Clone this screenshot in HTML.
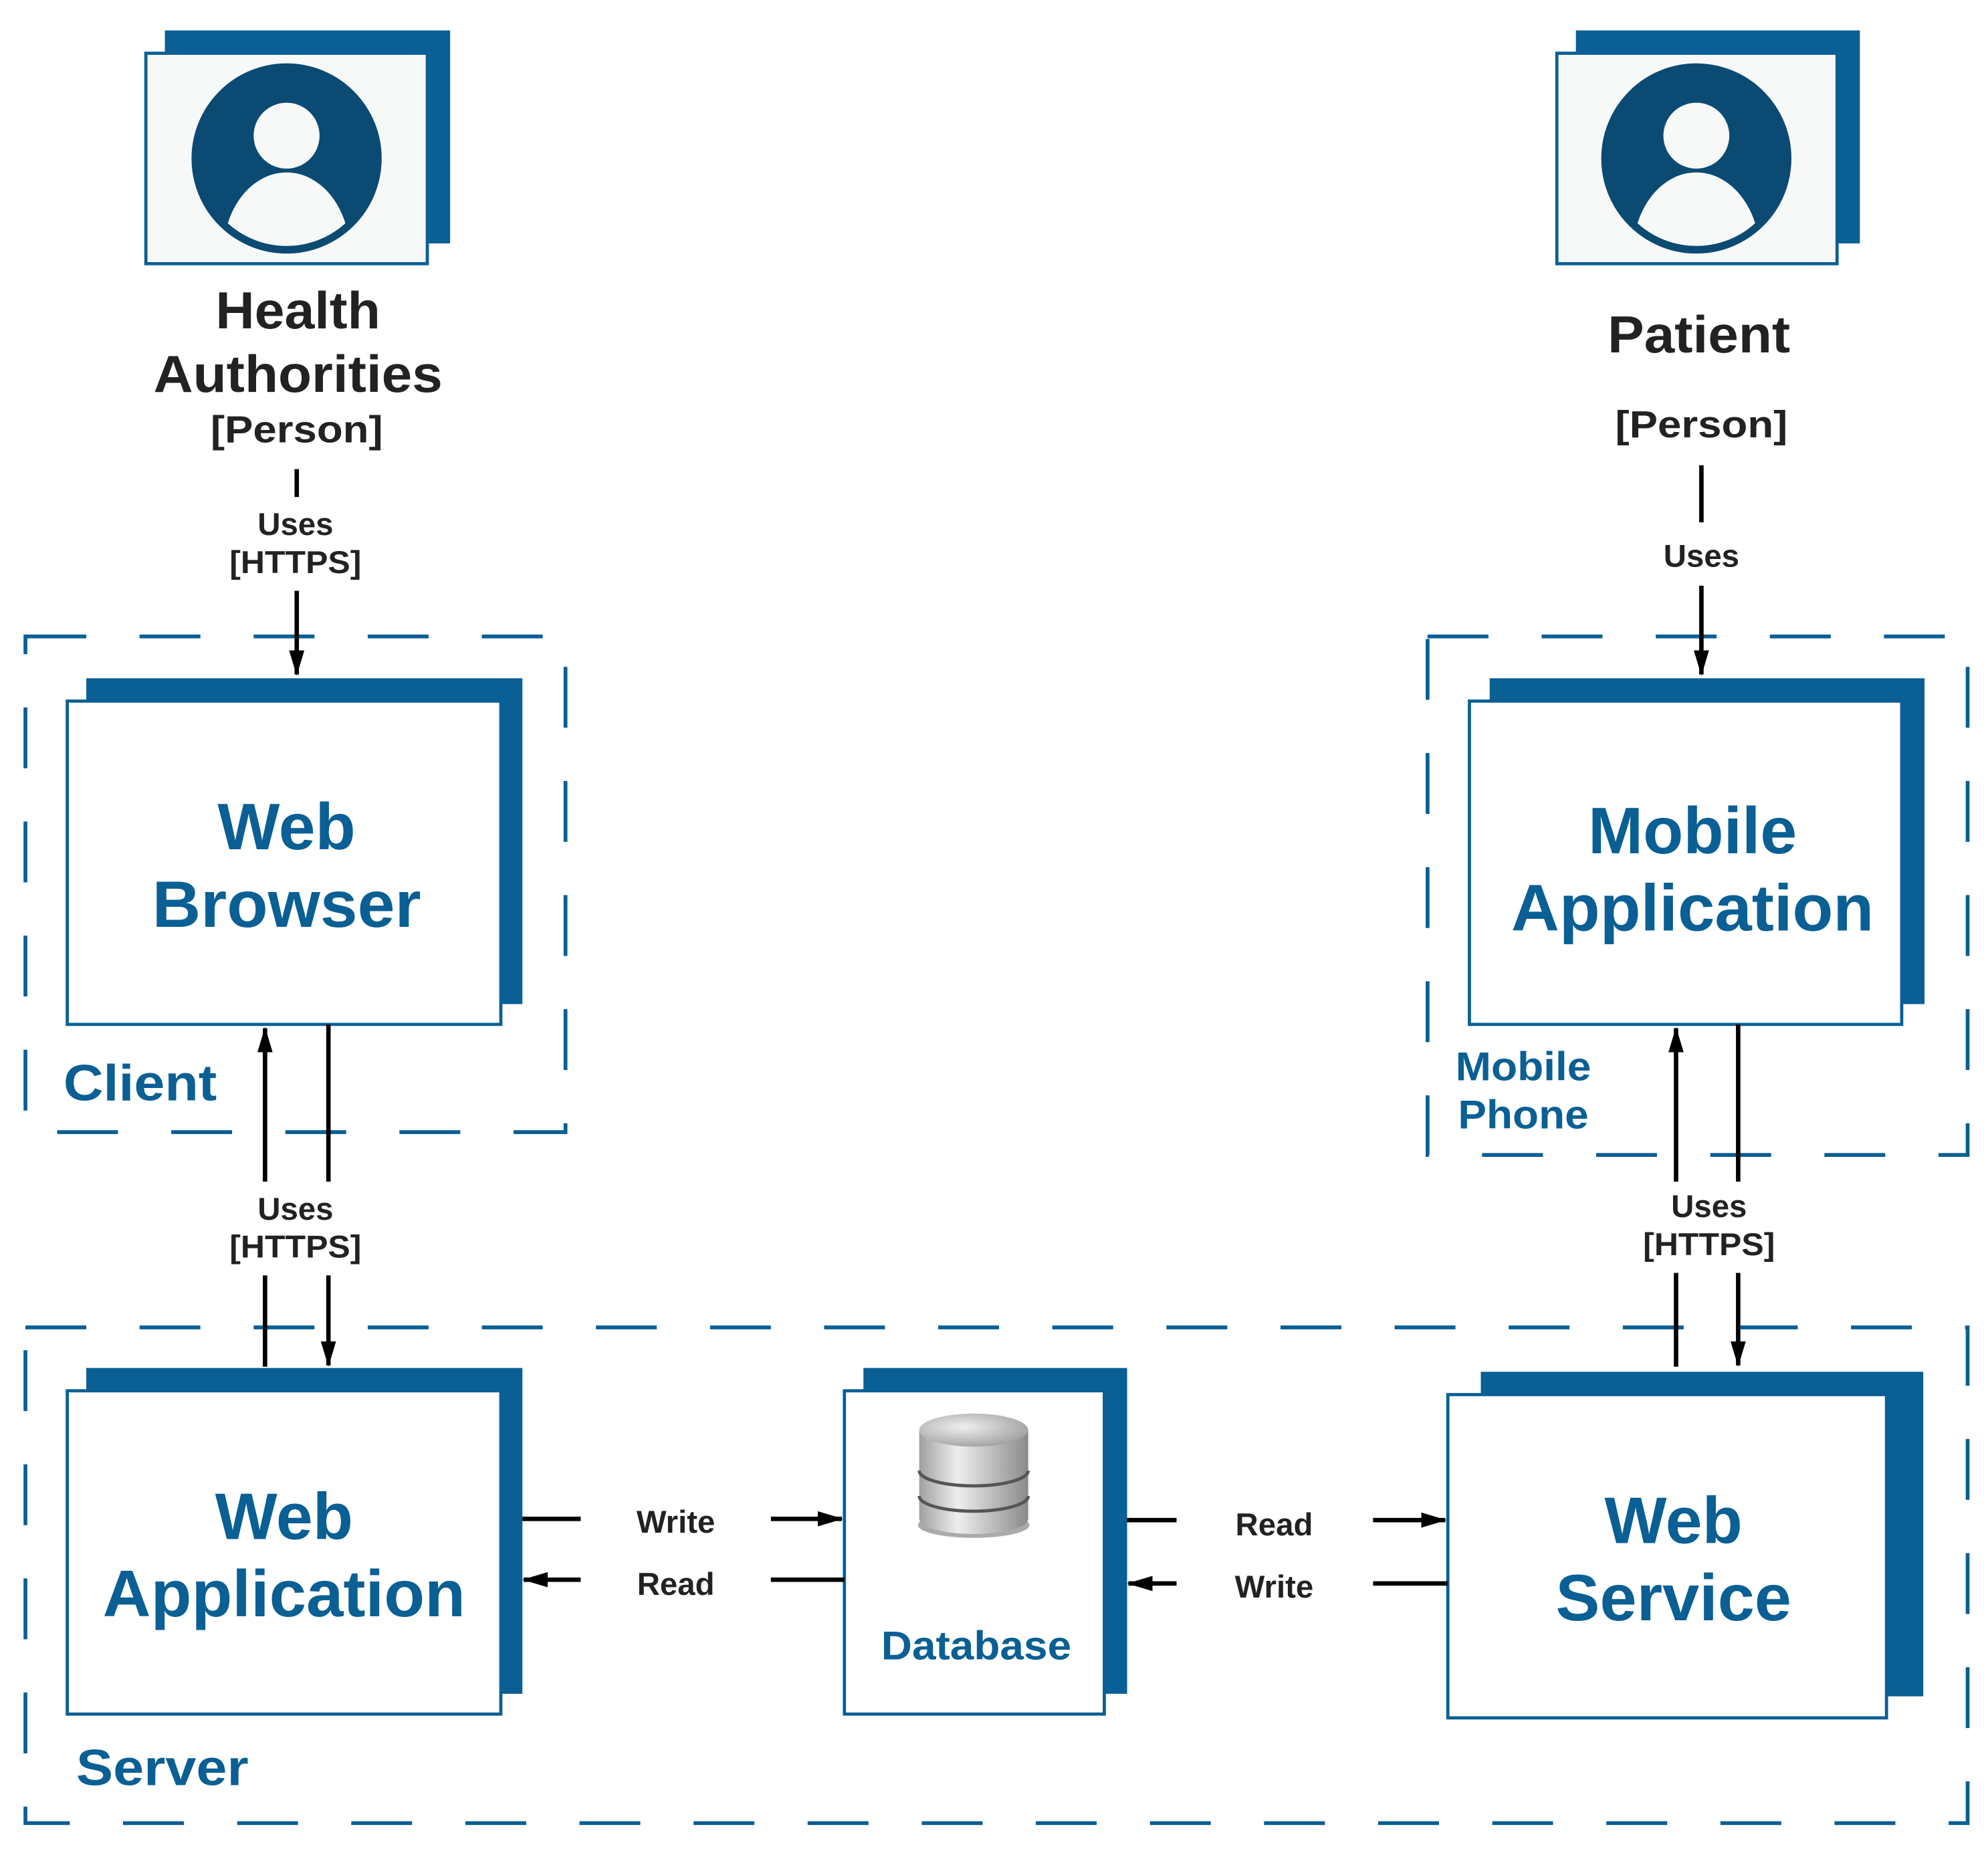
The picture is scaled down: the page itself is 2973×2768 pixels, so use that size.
<!DOCTYPE html>
<html><head><meta charset="utf-8"><style>
html,body{margin:0;padding:0;background:#fff;}
svg{display:block;}
text{font-family:"Liberation Sans",Arial,sans-serif;font-weight:bold;}
</style></head><body>
<svg width="2973" height="2768" viewBox="0 0 1568 1460" xmlns="http://www.w3.org/2000/svg">
<defs>
<marker id="ah" viewBox="0 0 20 12" refX="19" refY="6" markerWidth="20" markerHeight="12" orient="auto" markerUnits="userSpaceOnUse">
<path d="M0,0 L20,6 L0,12 z" fill="#000"/>
</marker>
<radialGradient id="cyl" cx="0.4" cy="0.4" r="0.7"><stop offset="0" stop-color="#f0f0f0"/><stop offset="1" stop-color="#9a9a9a"/></radialGradient>
<linearGradient id="cylb" x1="0" x2="1"><stop offset="0" stop-color="#a0a0a0"/><stop offset="0.35" stop-color="#eeeeee"/><stop offset="1" stop-color="#8a8a8a"/></linearGradient>
<clipPath id="c1"><circle cx="226" cy="125" r="72"/></clipPath>
<clipPath id="c2"><circle cx="1338" cy="125" r="72"/></clipPath>
</defs>
<g fill="none" stroke="#0a5f94" stroke-width="3" stroke-dasharray="48 42">
<rect x="20" y="502" width="426" height="391"/>
<rect x="1126" y="502" width="426" height="409"/>
<rect x="20" y="1047" width="1532" height="391"/>
</g>
<rect x="130" y="24" width="225" height="168" fill="#0a5f94"/>
<rect x="115" y="42" width="222" height="166" fill="#f7f8f8" stroke="#0a5f94" stroke-width="2.5"/>
<circle cx="226" cy="125" r="72" fill="#0b4a72"/>
<g clip-path="url(#c1)" fill="#f7f8f8"><circle cx="226" cy="107" r="26"/><ellipse cx="226" cy="200" rx="50" ry="64"/></g>
<circle cx="226" cy="125" r="72" fill="none" stroke="#0b4a72" stroke-width="6"/>
<rect x="1243" y="24" width="224" height="168" fill="#0a5f94"/>
<rect x="1228" y="42" width="221" height="166" fill="#f7f8f8" stroke="#0a5f94" stroke-width="2.5"/>
<circle cx="1338" cy="125" r="72" fill="#0b4a72"/>
<g clip-path="url(#c2)" fill="#f7f8f8"><circle cx="1338" cy="107" r="26"/><ellipse cx="1338" cy="200" rx="50" ry="64"/></g>
<circle cx="1338" cy="125" r="72" fill="none" stroke="#0b4a72" stroke-width="6"/>
<g fill="#222" text-anchor="middle">
<text x="235" y="259" font-size="41" textLength="130" lengthAdjust="spacingAndGlyphs">Health</text>
<text x="235" y="309" font-size="41" textLength="228" lengthAdjust="spacingAndGlyphs">Authorities</text>
<text x="234" y="349" font-size="30" textLength="136" lengthAdjust="spacingAndGlyphs">[Person]</text>
<text x="1340" y="278" font-size="41" textLength="144" lengthAdjust="spacingAndGlyphs">Patient</text>
<text x="1342" y="345" font-size="30" textLength="136" lengthAdjust="spacingAndGlyphs">[Person]</text>
<g font-size="25">
<text x="233" y="422">Uses</text><text x="233" y="452" textLength="104" lengthAdjust="spacingAndGlyphs">[HTTPS]</text>
<text x="1342" y="447">Uses</text>
<text x="233" y="962">Uses</text><text x="233" y="992" textLength="104" lengthAdjust="spacingAndGlyphs">[HTTPS]</text>
<text x="1348" y="960">Uses</text><text x="1348" y="990" textLength="104" lengthAdjust="spacingAndGlyphs">[HTTPS]</text>
<text x="533" y="1209">Write</text><text x="533" y="1258">Read</text>
<text x="1005" y="1211">Read</text><text x="1005" y="1260">Write</text>
</g>
</g>
<g fill="#0a5f94">
<rect x="68" y="535" width="344" height="257"/>
<rect x="1175" y="535" width="343" height="257"/>
<rect x="68" y="1079" width="344" height="257"/>
<rect x="681" y="1079" width="208" height="257"/>
<rect x="1168" y="1082" width="349" height="256"/>
</g>
<g fill="#fff" stroke="#0a5f94" stroke-width="2.5">
<rect x="53" y="553" width="342" height="255"/>
<rect x="1159" y="553" width="341" height="255"/>
<rect x="53" y="1097" width="342" height="255"/>
<rect x="666" y="1097" width="205" height="255"/>
<rect x="1142" y="1100" width="346" height="255"/>
</g>
<g fill="#0a5f94" text-anchor="middle" font-size="52">
<text x="226" y="670">Web</text><text x="226" y="731" textLength="212" lengthAdjust="spacingAndGlyphs">Browser</text>
<text x="1335" y="673">Mobile</text><text x="1335" y="734" textLength="286" lengthAdjust="spacingAndGlyphs">Application</text>
<text x="224" y="1214">Web</text><text x="224" y="1275" textLength="286" lengthAdjust="spacingAndGlyphs">Application</text>
<text x="1320" y="1217">Web</text><text x="1320" y="1278" textLength="186" lengthAdjust="spacingAndGlyphs">Service</text>
<text x="770" y="1309" font-size="32" textLength="150" lengthAdjust="spacingAndGlyphs">Database</text>
</g>
<g fill="#0a5f94" font-size="40">
<text x="50" y="868" textLength="121" lengthAdjust="spacingAndGlyphs">Client</text>
<text x="60" y="1408" textLength="136" lengthAdjust="spacingAndGlyphs">Server</text>
<text x="1148" y="852" font-size="32" textLength="107" lengthAdjust="spacingAndGlyphs">Mobile</text>
<text x="1150" y="890" font-size="32" textLength="103" lengthAdjust="spacingAndGlyphs">Phone</text>
</g>
<ellipse cx="768" cy="1203" rx="44" ry="10" fill="#555" opacity="0.5"/>
<path d="M725,1128 L725,1198 A43,12 0 0 0 811,1198 L811,1128 Z" fill="url(#cylb)"/>
<path d="M725,1160 A43,12 0 0 0 811,1160 M725,1180 A43,12 0 0 0 811,1180" fill="none" stroke="#555" stroke-width="2.5"/>
<ellipse cx="768" cy="1128" rx="43" ry="13" fill="url(#cyl)"/>
<g stroke="#000" stroke-width="3.5" fill="none">
<line x1="234" y1="370" x2="234" y2="392"/>
<line x1="234" y1="466" x2="234" y2="532" marker-end="url(#ah)"/>
<line x1="1342" y1="367" x2="1342" y2="412"/>
<line x1="1342" y1="462" x2="1342" y2="532" marker-end="url(#ah)"/>
<line x1="209" y1="932" x2="209" y2="811" marker-end="url(#ah)"/>
<line x1="209" y1="1006" x2="209" y2="1078"/>
<line x1="259" y1="808" x2="259" y2="932"/>
<line x1="259" y1="1006" x2="259" y2="1077" marker-end="url(#ah)"/>
<line x1="1322" y1="932" x2="1322" y2="811" marker-end="url(#ah)"/>
<line x1="1322" y1="1004" x2="1322" y2="1078"/>
<line x1="1371" y1="808" x2="1371" y2="932"/>
<line x1="1371" y1="1004" x2="1371" y2="1077" marker-end="url(#ah)"/>
<line x1="412" y1="1198" x2="458" y2="1198"/>
<line x1="608" y1="1198" x2="664" y2="1198" marker-end="url(#ah)"/>
<line x1="458" y1="1246" x2="413" y2="1246" marker-end="url(#ah)"/>
<line x1="608" y1="1246" x2="666" y2="1246"/>
<line x1="889" y1="1199" x2="928" y2="1199"/>
<line x1="1083" y1="1199" x2="1140" y2="1199" marker-end="url(#ah)"/>
<line x1="928" y1="1249" x2="890" y2="1249" marker-end="url(#ah)"/>
<line x1="1083" y1="1249" x2="1142" y2="1249"/>
</g>
</svg>
</body></html>
